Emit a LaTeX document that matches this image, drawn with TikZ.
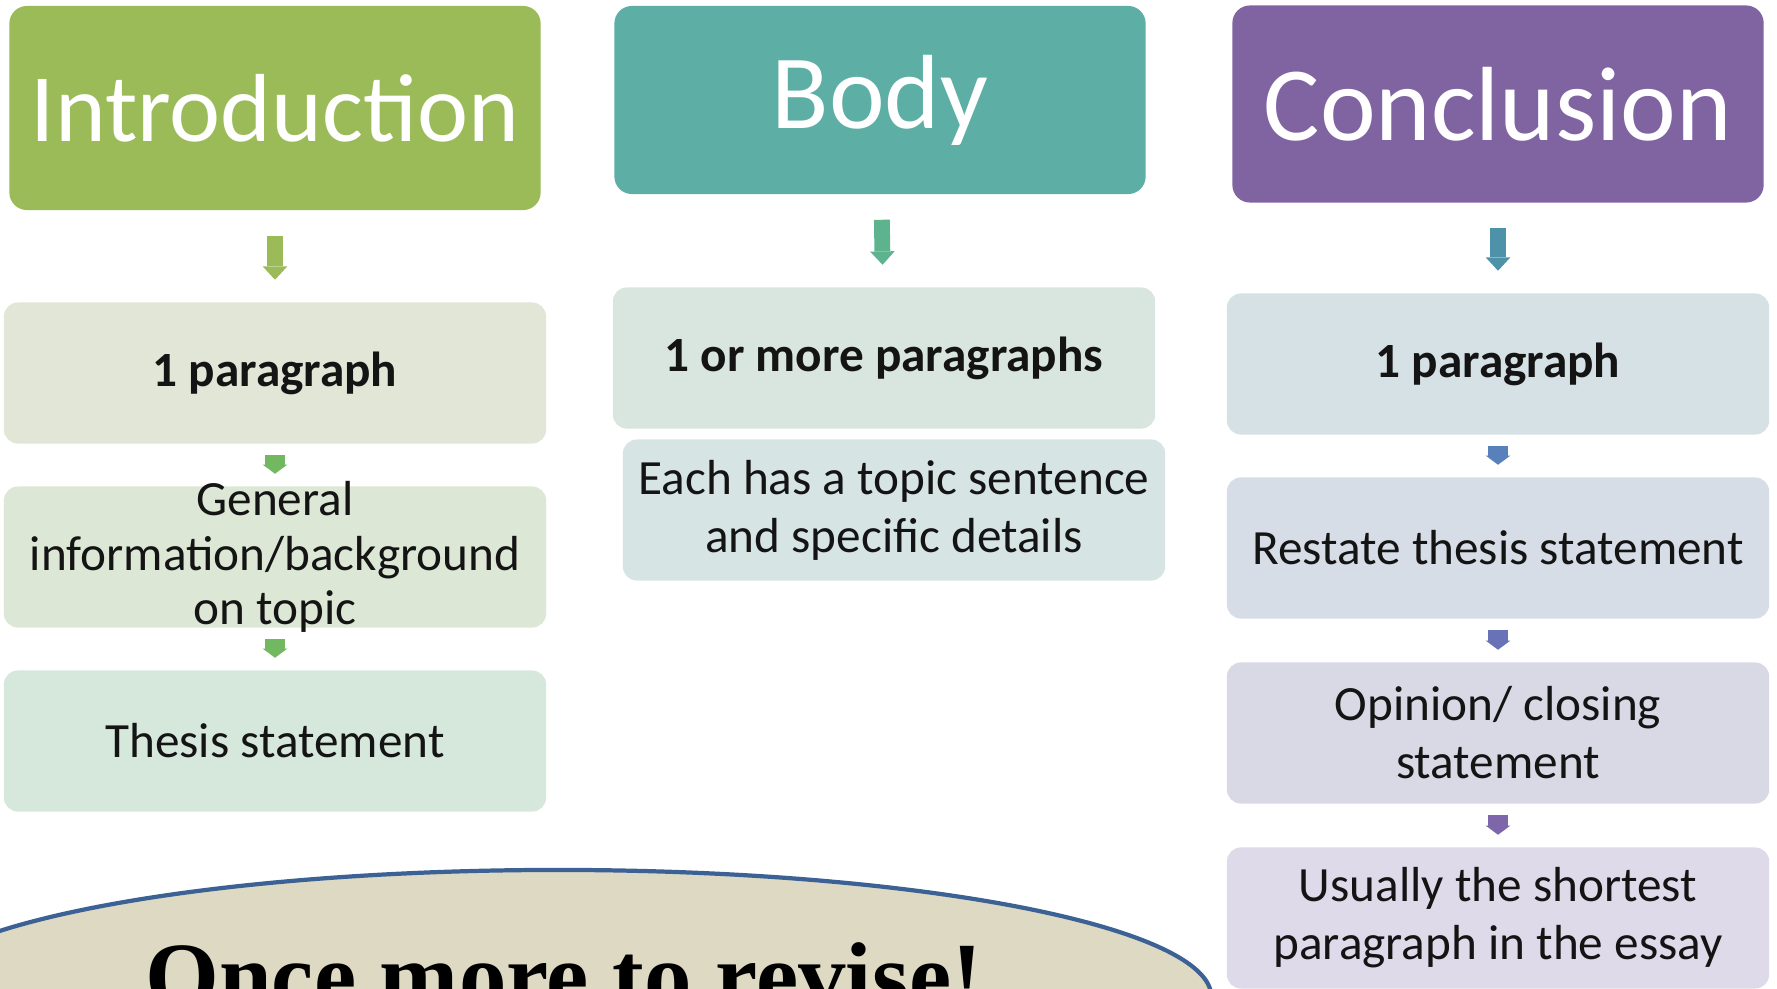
\documentclass[tikz,border=0pt]{standalone}
\usepackage{fontspec}
\setmainfont{Carlito}
\newfontfamily\timesfont{Liberation Serif}
\usetikzlibrary{arrows.meta,shapes.geometric}

\definecolor{introhead}{HTML}{9BBB59}
\definecolor{bodyhead}{HTML}{5DAFA6}
\definecolor{conchead}{HTML}{8064A2}
\definecolor{ifillA}{HTML}{E1E6D6}
\definecolor{ifillB}{HTML}{DCE7D5}
\definecolor{ifillC}{HTML}{D6E8DC}
\definecolor{bfillA}{HTML}{D8E6DF}
\definecolor{bfillB}{HTML}{D6E5E3}
\definecolor{cfillA}{HTML}{D6E1E5}
\definecolor{cfillB}{HTML}{D7DDE6}
\definecolor{cfillC}{HTML}{D9D9E6}
\definecolor{cfillD}{HTML}{DEDAE9}
\definecolor{iarrow}{HTML}{72B860}
\definecolor{barrow}{HTML}{5DB38E}
\definecolor{carrowA}{HTML}{4E92AA}
\definecolor{carrowB}{HTML}{5880BA}
\definecolor{carrowC}{HTML}{6872B6}
\definecolor{carrowD}{HTML}{7D66AA}
\definecolor{ovalfill}{HTML}{DDD9C3}
\definecolor{ovalline}{HTML}{3C6194}

\begin{document}
\begin{tikzpicture}[x=0.01cm, y=-0.01cm,
	head/.style={rounded corners=5pt, minimum width=5.31cm, inner sep=0pt, text=white, font=\fontsize{30}{36}\selectfont},
	box/.style={rounded corners=4pt, minimum width=5.42cm, minimum height=1.41cm, inner sep=2pt, align=center, text=black!92, font=\fontsize{14}{16.5}\selectfont},
	boxtxt/.style={align=center, inner sep=0pt, text=black!92, font=\fontsize{14}{15.6}\selectfont},
	boldtxt/.style={font=\fontsize{14}{16.5}\selectfont\bfseries},
	bigarr/.style={draw, line width=4.5pt, -{Triangle[width=7pt,length=3.8pt,line width=0pt]}, shorten <=0.25cm, shorten >=0.22cm},
	smallarr/.style={draw, line width=5.6pt, -{Triangle[width=7pt,length=2.6pt,line width=0pt]}, shorten <=0.105cm, shorten >=0.12cm}]
	\useasboundingbox (0,0) rectangle (1777,988);
	\clip (0,0) rectangle (1777,988);
	\fill[white] (0,0) rectangle (1777,988);
	
	% introduction
	\node[head, fill=introhead, minimum height=2.04cm, font=\fontsize{27.5}{33}\selectfont] (ihead) at (275,108){Introduction};
	\node[box, boldtxt, fill=ifillA] (ipar) at (275,373){1 paragraph};
	\node[box, fill=ifillB] (igen) at (275,557){};
	\node[boxtxt] (igentxt) at (igen){General\\information/background\\on topic};
	\node[box, fill=ifillC] (ithesis) at (275,741){Thesis statement};
	
	\path[bigarr, color=introhead] (ihead) edge (ipar);
	\path[smallarr, color=iarrow] (ipar) edge (igen);
	\path[smallarr, color=iarrow] (igen) edge (ithesis);
	
	% body
	\node[head, fill=bodyhead, minimum height=1.88cm] (bhead) at (880,100){Body};
	\node[box, boldtxt, fill=bfillA] (bpar) at (884,358){1 or more paragraphs};
	\node[box, fill=bfillB] (bdet) at (894,510){Each has a topic sentence\\and specific details};
	
	\path[bigarr, color=barrow] (bhead) edge (bpar);
	
	% conclusion
	\node[head, fill=conchead, minimum height=1.97cm] (chead) at (1498,104){Conclusion};
	\node[box, boldtxt, fill=cfillA] (cpar) at (1498,364){1 paragraph};
	\node[box, fill=cfillB] (crest) at (1498,548){Restate thesis statement};
	\node[box, fill=cfillC] (copin) at (1498,733){Opinion/ closing\\statement};
	\node[box, fill=cfillD] (cshort) at (1498,918){Usually the shortest\\paragraph in the essay};
	
	\path[bigarr, color=carrowA] (chead) edge (cpar);
	\path[smallarr, color=carrowB] (cpar) edge (crest);
	\path[smallarr, color=carrowC] (crest) edge (copin);
	\path[smallarr, color=carrowD] (copin) edge (cshort);
	
	% oval
	\node[ellipse, draw=ovalline, line width=1.2pt, fill=ovalfill, minimum width=13.06cm, minimum height=2.54cm] (revise) at (558,997){};
	\node[anchor=base, inner sep=0pt, font=\timesfont\bfseries\fontsize{27}{30}\selectfont] (revisetxt) at (564,1008){Once more to revise!};
\end{tikzpicture}
\end{document}
